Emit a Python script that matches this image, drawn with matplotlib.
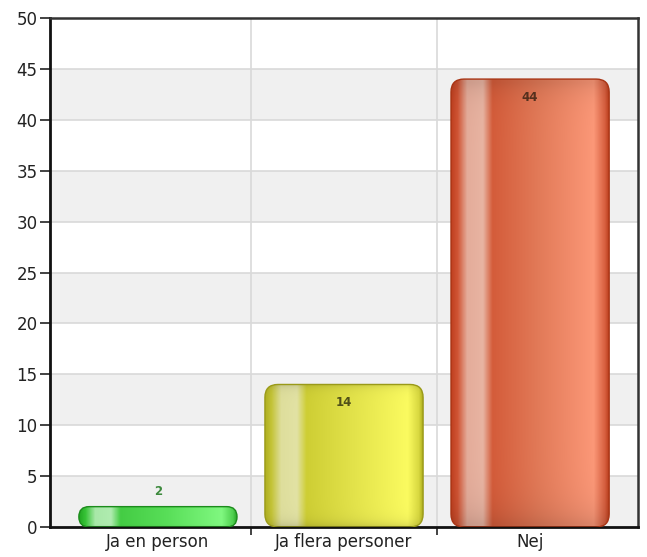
import numpy as np
import matplotlib.pyplot as plt
from matplotlib.patches import FancyBboxPatch
from matplotlib.colors import to_rgb

# data
kategorier = ['Ja en person', 'Ja flera personer', 'Nej']
antal = [2, 14, 44]
y_ticks = [0, 5, 10, 15, 20, 25, 30, 35, 40, 45, 50]

# colour stops for the glossy bars (position across bar, colour)
stopp = [
    [(0.0, '#22a822'), (0.04, '#38c438'), (0.1, '#a8e8a8'), (0.2, '#b0ecb0'),
     (0.26, '#44cc44'), (0.55, '#58de58'), (0.9, '#80f880'), (0.97, '#50d050'),
     (1.0, '#22a022')],
    [(0.0, '#b0b020'), (0.04, '#c4c438'), (0.1, '#dede9c'), (0.2, '#e2e2a4'),
     (0.26, '#cece34'), (0.55, '#e2e24a'), (0.9, '#fbfb60'), (0.97, '#d8d840'),
     (1.0, '#a8a818')],
    [(0.0, '#c04020'), (0.04, '#d05434'), (0.1, '#e4ac9a'), (0.2, '#e8b4a2'),
     (0.26, '#d45c3a'), (0.55, '#e27a58'), (0.9, '#fc9878'), (0.97, '#d86040'),
     (1.0, '#b83a18')],
]
kant = ['#1c8c1c', '#9a9a18', '#a83414']
text_farg = ['#3d8a3d', '#505018', '#55301e']

fig = plt.figure(figsize=(6.47, 5.57), dpi=100)
ax = fig.add_axes([50 / 647, 30 / 557, 588 / 647, 509 / 557])

ax.set_xlim(-0.58, 2.58)
ax.set_ylim(0, 50)

# alternating bands and grid
for i in range(0, 50, 10):
    ax.axhspan(i, i + 5, color='#f0f0f0', zorder=0, lw=0)
for t in y_ticks[1:-1]:
    ax.axhline(t, color='#d9d9d9', lw=1.2, zorder=1)
for b in [0.5, 1.5]:
    ax.axvline(b, color='#d9d9d9', lw=1.2, zorder=1)

bredd = 0.85
# px per data unit, for round corners
px_x = 588 / 3.16
px_y = 509 / 50.0
asp = px_x / px_y
r_px = 13

for i, (v, st) in enumerate(zip(antal, stopp)):
    x0 = i - bredd / 2
    rs = min(r_px / px_x, v / asp / 2 * 0.999)
    patch = FancyBboxPatch((x0, 0), bredd, v,
                           boxstyle='round,pad=0,rounding_size=%f' % rs,
                           mutation_aspect=asp, fc='none', ec=kant[i],
                           lw=1.0, zorder=3)
    ax.add_patch(patch)
    pos = np.array([p for p, c in st])
    cols = np.array([to_rgb(c) for p, c in st])
    xs = np.linspace(0, 1, 200)
    rad = np.stack([np.interp(xs, pos, cols[:, k]) for k in range(3)], axis=-1)
    # slight darkening towards top and bottom
    ys = np.linspace(0, 1, 60)
    skugga = 1 - 0.12 * np.exp(-(ys / 0.04)) - 0.10 * np.exp(-((1 - ys) / 0.03))
    img = rad[None, :, :] * skugga[:, None, None]
    im = ax.imshow(img, extent=(x0, x0 + bredd, 0, v), origin='lower',
                   aspect='auto', zorder=2, interpolation='bilinear')
    im.set_clip_path(patch)

    if v > 5:
        ax.text(i, v - 1.8, str(v), ha='center', va='center', fontsize=8.5,
                fontweight='bold', color=text_farg[i], zorder=4)
    else:
        ax.text(i, v + 1.5, str(v), ha='center', va='center', fontsize=8.5,
                fontweight='bold', color=text_farg[i], zorder=4)

ax.set_yticks(y_ticks)
ax.set_yticklabels([str(t) for t in y_ticks], fontsize=12, color='#222222')
ax.set_xticks(range(len(kategorier)))
ax.set_xticklabels(kategorier, fontsize=12, color='#222222')
ax.set_xticks([0.5, 1.5], minor=True)
ax.tick_params(axis='y', length=7, width=1.2, color='#222222', pad=2)
ax.tick_params(axis='x', which='major', length=0, pad=4)
ax.tick_params(axis='x', which='minor', length=6, width=1.2, color='#222222')

for s in ['left', 'bottom']:
    ax.spines[s].set_linewidth(2)
    ax.spines[s].set_color('#111111')
for s in ['top', 'right']:
    ax.spines[s].set_linewidth(1.8)
    ax.spines[s].set_color('#333333')

fig.savefig('out.png', dpi=100)
